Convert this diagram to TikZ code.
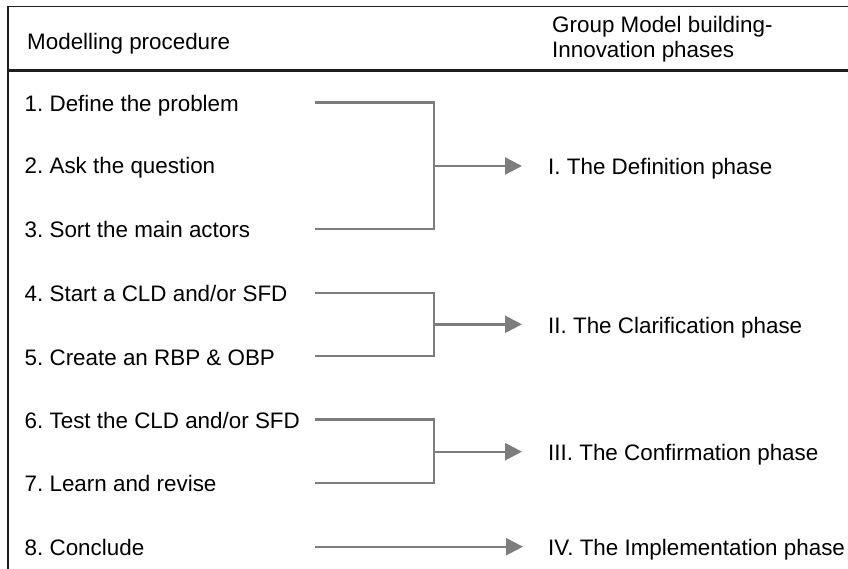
\documentclass[tikz,border=0pt]{standalone}
\usepackage{fontspec}
\setmainfont{Liberation Sans}
\usetikzlibrary{arrows.meta}
\definecolor{conngray}{RGB}{125,125,125}
\definecolor{framecol}{RGB}{30,30,30}
\frenchspacing
\begin{document}
\begin{tikzpicture}[x=1pt,y=-1pt,
  txt/.style={anchor=base west, inner sep=0pt, font=\fontsize{22.4}{26}\selectfont},
  frame/.style={draw=framecol, line width=1.8pt},
  sepline/.style={draw=framecol, line width=2.8pt},
  conn/.style={draw=conngray, line width=2.4pt},
  arr/.style={conn, -{Triangle[length=17pt,width=17pt]}}]
\useasboundingbox (0,0) rectangle (848,569);

% frame
\coordinate (tl) at (8,6.5);
\coordinate (tr) at (848,6.5);
\coordinate (bl) at (8,569);
\coordinate (sl) at (8,70.7);
\coordinate (sr) at (848,70.7);
\draw[frame] (tr) -- (tl) -- (bl);
\draw[sepline] (sl) -- (sr);

% headers
\node[txt] (hmp) at (27,49.3) {Modelling procedure};
\node[txt] (hg1) at (552,32.8) {Group Model building-};
\node[txt] (hg2) at (552,57.2) {Innovation phases};

% items
\node[txt] (i1) at (24.5,111.5) {1. Define the problem};
\node[txt] (i2) at (24.5,174) {2. Ask the question};
\node[txt] (i3) at (24.5,237.5) {3. Sort the main actors};
\node[txt] (i4) at (24.5,301.5) {4. Start a CLD and/or SFD};
\node[txt] (i5) at (24.5,365) {5. Create an RBP \& OBP};
\node[txt] (i6) at (24.5,428) {6. Test the CLD and/or SFD};
\node[txt] (i7) at (24.5,491.5) {7. Learn and revise};
\node[txt] (i8) at (24.5,555) {8. Conclude};

% phases
\node[txt] (p1) at (548,174.5) {I. The Definition phase};
\node[txt] (p2) at (548,333) {II. The Clarification phase};
\node[txt] (p3) at (548,460.5) {III. The Confirmation phase};
\node[txt] (p4) at (548,555.5) {IV. The Implementation phase};

% bracket coordinates
\coordinate (a1) at (315,102.7);
\coordinate (a3) at (315,229);
\coordinate (j1) at (434,166);
\coordinate (t1) at (522,166);

\coordinate (a4) at (315,292.7);
\coordinate (a5) at (315,356);
\coordinate (j2) at (434,324.3);
\coordinate (t2) at (522,324.3);

\coordinate (a6) at (315,419.3);
\coordinate (a7) at (315,482.7);
\coordinate (j3) at (434,451.7);
\coordinate (t3) at (522,451.7);

\coordinate (a8) at (315,546.7);
\coordinate (t4) at (523,546.7);

% connectors
\draw[conn, line join=miter] (a1) -- (a1 -| j1) -- (a3 -| j1) -- (a3);
\draw[arr] (j1) -- (t1);
\draw[conn, line join=miter] (a4) -- (a4 -| j2) -- (a5 -| j2) -- (a5);
\draw[arr] (j2) -- (t2);
\draw[conn, line join=miter] (a6) -- (a6 -| j3) -- (a7 -| j3) -- (a7);
\draw[arr] (j3) -- (t3);
\draw[arr] (a8) -- (t4);
\end{tikzpicture}
\end{document}
